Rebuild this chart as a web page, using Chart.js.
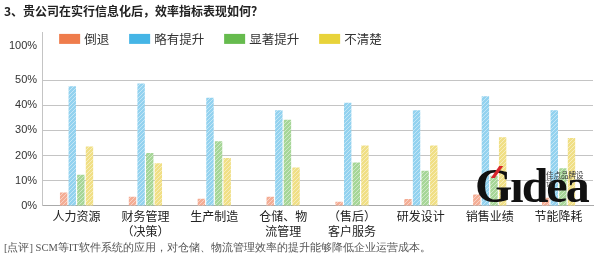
<!DOCTYPE html>
<html>
<head>
<meta charset="utf-8">
<script src="https://cdn.jsdelivr.net/npm/chart.js@4"></script>
<style>
  body { margin: 0; background: #fff; }
  #wrap { position: relative; width: 599px; height: 260px; }
  #logo { position: absolute; left: 475px; top: 162px; font-family: "Liberation Serif", serif; font-weight: bold;
          font-size: 48px; line-height: 48px; color: #111; letter-spacing: -2px; }
  #logo i { position: absolute; left: 20px; top: 4px; width: 4px; height: 12px; background: #d8262c;
            transform: skewX(-35deg); }
  #logo small { position: absolute; left: 71px; top: 9px; font-family: "Noto Sans CJK SC"; font-weight: normal;
                font-size: 7.5px; line-height: 7.5px; letter-spacing: 0; color: #333; }
</style>
</head>
<body>
<div id="wrap">
  <canvas id="myChart" width="599" height="260"></canvas>
  <div id="logo">G&#305;dea<i></i><small>佳点品牌设计</small></div>
</div>
<script>
const categories = [
    ['人力资源'], ['财务管理', '（决策）'], ['生产制造'], ['仓储、物', '流管理'],
    ['（售后）', '客户服务'], ['研发设计'], ['销售业绩'], ['节能降耗']
];
const seriesNames = ['倒退', '略有提升', '显著提升', '不清楚'];
const daotui = [5.3, 3.6, 2.8, 3.6, 1.7, 2.7, 4.5, 3.2];
const lueyou = [47.6, 48.7, 43, 38, 41, 38, 43.6, 38];
const xianzhu = [12.4, 21, 25.7, 34.3, 17.3, 14, 12, 15];
const buqing = [23.6, 17, 19, 15.3, 24, 24, 27.3, 27];
// axis is broken above 50%: top tick stands for 100%
const tickValues = [0, 10, 20, 30, 40, 50, 63.5];
const tickLabels = ['0%', '10%', '20%', '30%', '40%', '50%', '100%'];

const solid = ['#ef7c4c', '#45b5e6', '#66bb4e', '#e8d33a'];
const light = ['#f4ad95', '#93d2ef', '#a6d697', '#f0df85'];

function hatch(base) {
    const c = document.createElement('canvas');
    c.width = c.height = 4;
    const g = c.getContext('2d');
    g.fillStyle = base;
    g.fillRect(0, 0, 4, 4);
    g.strokeStyle = 'rgba(255,255,255,0.45)';
    g.lineWidth = 1;
    g.beginPath();
    g.moveTo(0, 4); g.lineTo(4, 0);
    g.stroke();
    return g.createPattern(c, 'repeat');
}

// legend sits inside the top of the plot, like the original
const topLegend = {
    id: 'topLegend',
    afterDraw(chart) {
        const c = chart.ctx;
        c.save();
        c.font = '12.5px "Noto Sans CJK SC"';
        c.textBaseline = 'middle';
        let x = chart.chartArea.left + 17;
        const y = chart.chartArea.top + 6;
        chart.data.datasets.forEach((ds, i) => {
            c.fillStyle = solid[i];
            c.fillRect(x, y - 5, 21, 10);
            c.fillStyle = '#333';
            c.fillText(ds.label, x + 25, y);
            x += 25 + c.measureText(ds.label).width + 20;
        });
        c.restore();
    }
};

const ctx = document.getElementById('myChart').getContext('2d');

const chart = new Chart(ctx, {
    type: 'bar',
    data: {
        labels: categories,
        datasets: [daotui, lueyou, xianzhu, buqing].map((d, i) => ({
            label: seriesNames[i],
            data: d,
            backgroundColor: hatch(light[i]),
            barPercentage: 0.86,
            categoryPercentage: 0.5
        }))
    },
    plugins: [topLegend],
    options: {
        responsive: false,
        animation: false,
        events: [],
        layout: { padding: { left: 4, right: 6, bottom: 3 } },
        plugins: {
            title: {
                display: true,
                text: '3、贵公司在实行信息化后，效率指标表现如何？',
                align: 'start',
                color: '#222',
                font: { family: 'Noto Sans CJK SC', size: 12, weight: 'bold' },
                padding: { top: 4, bottom: 14.5 }
            },
            subtitle: {
                display: true,
                position: 'bottom',
                align: 'start',
                text: '[点评] SCM等IT软件系统的应用，对仓储、物流管理效率的提升能够降低企业运营成本。',
                color: '#555',
                font: { family: 'Liberation Serif', size: 10.5 },
                padding: { top: 0, bottom: 2.5 }
            },
            legend: { display: false },
            tooltip: { enabled: false }
        },
        scales: {
            x: {
                grid: { display: false, drawTicks: false },
                border: { color: '#aaa' },
                ticks: {
                    color: '#222',
                    padding: 3,
                    maxRotation: 0,
                    font: { family: 'Noto Sans CJK SC', size: 12, lineHeight: 1.25 }
                }
            },
            y: {
                min: 0,
                max: 68.8,
                afterBuildTicks: function (axis) {
                    axis.ticks = tickValues.map(v => ({ value: v }));
                },
                grid: {
                    color: c => c.tick && c.tick.value > 50 ? 'rgba(0,0,0,0)' : '#c4c4c4',
                    drawTicks: false
                },
                border: { color: '#c4c4c4' },
                ticks: {
                    color: '#333',
                    padding: 5,
                    font: { family: 'Liberation Sans', size: 11 },
                    callback: function (value) {
                        return tickLabels[tickValues.indexOf(value)];
                    }
                }
            }
        }
    }
});
</script>
</body>
</html>
